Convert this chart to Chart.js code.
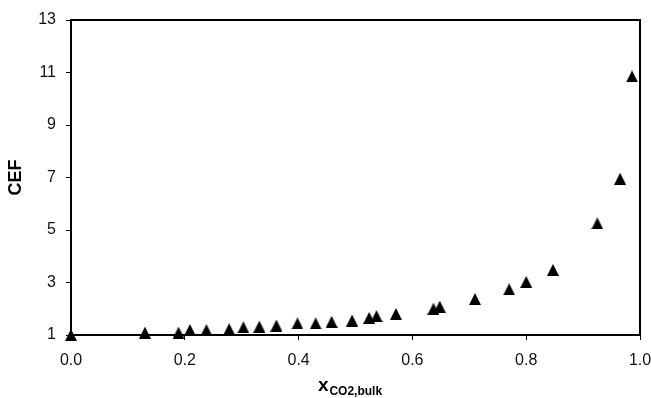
<!DOCTYPE html>
<html>
<head>
<meta charset="utf-8">
<script src="https://cdn.jsdelivr.net/npm/chart.js@4/dist/chart.umd.min.js"></script>
<style>
  html, body { margin: 0; padding: 0; background: #fff; }
  #wrap { width: 651px; height: 398px; position: relative; }
</style>
</head>
<body>
<div id="wrap"><canvas id="chart"></canvas></div>
<script>
/* global Chart */

// CO2 bulk mole fraction vs CEF
const xBulk = [0.000, 0.130, 0.189, 0.209, 0.238, 0.278, 0.303, 0.331, 0.361, 0.398,
  0.430, 0.458, 0.494, 0.524, 0.537, 0.571, 0.637, 0.648, 0.710, 0.770,
  0.800, 0.847, 0.925, 0.965, 0.986]
const cef = [1.00, 1.09, 1.09, 1.19, 1.19, 1.22, 1.29, 1.32, 1.36, 1.44,
  1.44, 1.50, 1.55, 1.65, 1.72, 1.80, 2.00, 2.08, 2.37, 2.74,
  3.02, 3.48, 5.25, 6.95, 10.85]

const xTickValues = [0, 0.2, 0.4, 0.6, 0.8, 1.0]
const yTickValues = [1, 3, 5, 7, 9, 11, 13]

const FONT = 'Liberation Sans, Arial, Helvetica, sans-serif'

// filled triangle marker centred on its box (like the Excel marker)
function makeTriangle(w, h) {
  const c = document.createElement('canvas')
  c.width = w
  c.height = h
  const g = c.getContext('2d')
  g.fillStyle = '#000'
  g.beginPath()
  g.moveTo(w / 2, 0)
  g.lineTo(w, h)
  g.lineTo(0, h)
  g.closePath()
  g.fill()
  return c
}
const triangle = makeTriangle(12, 12)

const points = xBulk.map((x, i) => ({ x, y: cef[i] }))

const framePlugin = {
  id: 'frame',
  beforeDatasetsDraw(chart) {
    const { ctx, chartArea: a } = chart
    ctx.save()
    ctx.strokeStyle = '#000'
    ctx.lineWidth = 2
    ctx.strokeRect(a.left, a.top, a.right - a.left, a.bottom - a.top)
    ctx.restore()
  }
}

// x axis title with subscript
const xTitlePlugin = {
  id: 'xTitle',
  afterDraw(chart) {
    const { ctx, chartArea: a } = chart
    const main = 'x'
    const sub = 'CO2,bulk'
    ctx.save()
    ctx.fillStyle = '#000'
    ctx.textBaseline = 'alphabetic'
    ctx.font = 'bold 19px ' + FONT
    const w1 = ctx.measureText(main).width
    ctx.font = 'bold 12px ' + FONT
    const w2 = ctx.measureText(sub).width
    const x0 = (a.left + a.right) / 2 - 6 - (w1 + w2) / 2
    ctx.font = 'bold 19px ' + FONT
    ctx.fillText(main, x0, 391)
    ctx.font = 'bold 12px ' + FONT
    ctx.fillText(sub, x0 + w1 + 1, 395)
    ctx.restore()
  }
}

const tickFont = { family: FONT, size: 16 }

new Chart(document.getElementById('chart'), {
  type: 'scatter',
  data: {
    datasets: [{
      data: points,
      pointStyle: triangle,
      pointRadius: 6,
      pointHoverRadius: 6,
      showLine: false,
      clip: false
    }]
  },
  options: {
    responsive: true,
    maintainAspectRatio: false,
    animation: false,
    layout: { padding: { left: 0, right: 11, top: 20, bottom: 0 } },
    plugins: {
      legend: { display: false },
      tooltip: { enabled: false }
    },
    scales: {
      x: {
        type: 'linear',
        min: 0,
        max: 1,
        afterBuildTicks: s => { s.ticks = xTickValues.map(v => ({ value: v })) },
        afterFit: s => {
          s.height = 63
          s.paddingLeft = 0
          s.paddingRight = 0
        },
        ticks: {
          font: tickFont,
          color: '#111',
          padding: 11,
          maxRotation: 0,
          callback: v => Number(v).toFixed(1)
        },
        grid: { drawOnChartArea: false, drawTicks: true, tickLength: 5, color: '#000', lineWidth: 1 },
        border: { display: false }
      },
      y: {
        type: 'linear',
        min: 1,
        max: 13,
        afterBuildTicks: s => { s.ticks = yTickValues.map(v => ({ value: v })) },
        afterFit: s => {
          s.width = 71
          s.paddingTop = 0
          s.paddingBottom = 0
        },
        ticks: {
          font: tickFont,
          color: '#111',
          padding: 10,
          callback: v => String(v)
        },
        grid: { drawOnChartArea: false, drawTicks: true, tickLength: 5, color: '#000', lineWidth: 1 },
        border: { display: false },
        title: {
          display: true,
          text: 'CEF',
          color: '#000',
          font: { family: FONT, size: 18, weight: 'bold' },
          padding: { top: 5, bottom: 0 }
        }
      }
    }
  },
  plugins: [framePlugin, xTitlePlugin]
})
</script>
</body>
</html>
